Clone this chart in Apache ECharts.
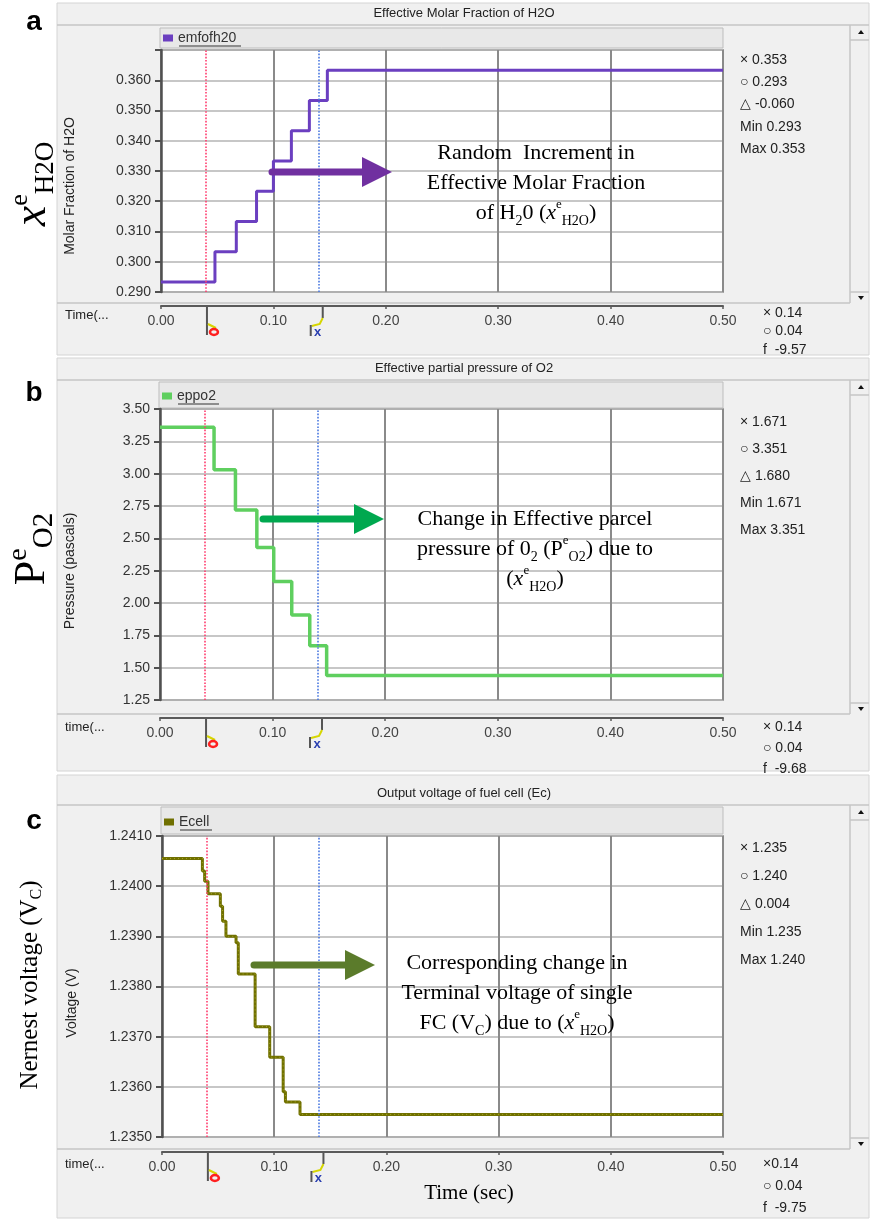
<!DOCTYPE html>
<html>
<head>
<meta charset="utf-8">
<title>Fuel cell scope traces</title>
<script src="https://cdn.jsdelivr.net/npm/echarts@6/dist/echarts.min.js"></script>
<style>
  html, body { margin: 0; padding: 0; background: #fff; }
  #chart { width: 870px; height: 1220px; }
</style>
</head>
<body>
<div id="chart"></div>
<script>
// step times (s) and levels
const timeH2O = [0, 0.048, 0.067, 0.085, 0.100, 0.116, 0.132, 0.148, 0.50];
const molarH2O = [0.2933, 0.3033, 0.3133, 0.3233, 0.3333, 0.3433, 0.3533, 0.3633, 0.3633];

const timeO2 = [0, 0.048, 0.067, 0.086, 0.101, 0.117, 0.133, 0.148, 0.50];
const pressO2 = [3.358, 3.030, 2.720, 2.430, 2.166, 1.908, 1.670, 1.440, 1.440];

const timeCell = [0, 0.036, 0.038, 0.041, 0.052, 0.054, 0.057, 0.066, 0.068, 0.083, 0.096, 0.108, 0.110, 0.123, 0.50];
const ecell = [1.24055, 1.2403, 1.2401, 1.23985, 1.2396, 1.2393, 1.2390, 1.23887, 1.23825, 1.2372, 1.23659, 1.2359, 1.2357, 1.23545, 1.23545];

// cursor positions (o = red, x = blue)
const cursorTimes = [0.04, 0.143];

// readout boxes at the right of each scope
const readoutH2O = ['× 0.353', '○ 0.293', '△ -0.060', 'Min 0.293', 'Max 0.353'];
const readoutO2 = ['× 1.671', '○ 3.351', '△ 1.680', 'Min 1.671', 'Max 3.351'];
const readoutCell = ['× 1.235', '○ 1.240', '△ 0.004', 'Min 1.235', 'Max 1.240'];
const cursorH2O = ['× 0.14', '○ 0.04', 'f  -9.57'];
const cursorO2 = ['× 0.14', '○ 0.04', 'f  -9.68'];
const cursorCell = ['×0.14', '○ 0.04', 'f  -9.75'];

const SANS = 'Liberation Sans, Arial, sans-serif';
const SERIF = 'Liberation Serif, Times New Roman, serif';

const panels = [
  { top: 3, bottom: 355, titleY: 13, barY: 25, legend: [28, 48], legendY: 38, underline: 62,
    grid: { left: 161, top: 50, width: 562, height: 242 }, axisOffset: 14, sepY: 303,
    title: 'Effective Molar Fraction of H2O', name: 'Molar Fraction of H2O', nameX: 70, nameY: 186,
    timeLabel: 'Time(...', timeY: 315, readY: 60, readStep: 22.3, readout: readoutH2O,
    curY: 313, curStep: 18.5, cursor: cursorH2O },
  { top: 358, bottom: 771, titleY: 368, barY: 380, legend: [382, 408], legendY: 396, underline: 41,
    grid: { left: 160, top: 409, width: 563, height: 291 }, axisOffset: 18, sepY: 714,
    title: 'Effective partial pressure of O2', name: 'Pressure (pascals)', nameX: 70, nameY: 571,
    timeLabel: 'time(...', timeY: 727, readY: 422, readStep: 27, readout: readoutO2,
    curY: 727, curStep: 21, cursor: cursorO2 },
  { top: 775, bottom: 1218, titleY: 793, barY: 805, legend: [807, 834], legendY: 822, underline: 32,
    grid: { left: 162, top: 836, width: 561, height: 301 }, axisOffset: 15, sepY: 1149,
    title: 'Output voltage of fuel cell (Ec)', name: 'Voltage (V)', nameX: 72, nameY: 1003,
    timeLabel: 'time(...', timeY: 1164, readY: 848, readStep: 28, readout: readoutCell,
    curY: 1164, curStep: 22, cursor: cursorCell }
];

const yRanges = [
  { min: 0.29, max: 0.37, interval: 0.01, fmt: v => (v > 0.3655 ? '' : v.toFixed(3)) },
  { min: 1.25, max: 3.5, interval: 0.25, fmt: v => v.toFixed(2) },
  { min: 1.235, max: 1.241, interval: 0.001, fmt: v => v.toFixed(4) }
];

const pairs = (xs, ys) => xs.map((x, i) => [x, ys[i]]);

const cursorLines = {
  silent: true,
  symbol: 'none',
  label: { show: false },
  data: [
    { xAxis: cursorTimes[0], lineStyle: { color: '#ff3d6e', type: 'dotted', width: 1.6 } },
    { xAxis: cursorTimes[1], lineStyle: { color: '#4a78e0', type: 'dotted', width: 1.6 } }
  ]
};

function richSet(color, size) {
  return {
    n: { fontFamily: SERIF, fontSize: size, lineHeight: 30, color },
    i: { fontFamily: SERIF, fontSize: size, fontStyle: 'italic', lineHeight: 30, color },
    sp: { fontFamily: SERIF, fontSize: 13, lineHeight: 17, verticalAlign: 'top', color },
    sb: { fontFamily: SERIF, fontSize: 14, lineHeight: 16, verticalAlign: 'bottom', color }
  };
}

function arrow(x1, x2, y, color) {
  return [
    { type: 'line', z: 50, shape: { x1: x1, y1: y, x2: x2 - 26, y2: y }, style: { stroke: color, lineWidth: 7, lineCap: 'round' } },
    { type: 'polygon', z: 50, shape: { points: [[x2 - 30, y - 15], [x2, y], [x2 - 30, y + 15]] }, style: { fill: color } }
  ];
}

const graphics = [];
panels.forEach(p => {
  const g = p.grid;
  graphics.push(
    { type: 'rect', z: -10, shape: { x: 57, y: p.top, width: 812, height: p.bottom - p.top }, style: { fill: '#f0f0f0', stroke: '#d4d4d4', lineWidth: 1 } },
    { type: 'line', z: -9, shape: { x1: 57, y1: p.barY, x2: 869, y2: p.barY }, style: { stroke: '#c6c6c6', lineWidth: 1.5 } },
    { type: 'line', z: -9, shape: { x1: 57, y1: p.sepY, x2: 850, y2: p.sepY }, style: { stroke: '#c6c6c6', lineWidth: 1.5 } },
    // scroll bar
    { type: 'line', z: -9, shape: { x1: 850, y1: p.barY, x2: 850, y2: p.sepY }, style: { stroke: '#c6c6c6', lineWidth: 1.5 } },
    { type: 'line', z: -9, shape: { x1: 850, y1: p.barY + 15, x2: 869, y2: p.barY + 15 }, style: { stroke: '#c6c6c6', lineWidth: 1.5 } },
    { type: 'line', z: -9, shape: { x1: 850, y1: p.sepY - 11, x2: 869, y2: p.sepY - 11 }, style: { stroke: '#c6c6c6', lineWidth: 1.5 } },
    { type: 'polygon', z: -8, shape: { points: [[858, p.barY + 9], [864, p.barY + 9], [861, p.barY + 5]] }, style: { fill: '#111' } },
    { type: 'polygon', z: -8, shape: { points: [[858, p.sepY - 7], [864, p.sepY - 7], [861, p.sepY - 3]] }, style: { fill: '#111' } },
    // legend strip
    { type: 'rect', z: -8, shape: { x: g.left - 1, y: p.legend[0], width: g.width + 1, height: p.legend[1] - p.legend[0] }, style: { fill: '#e8e8e8', stroke: '#bdbdbd', lineWidth: 1 } },
    { type: 'line', z: 5, shape: { x1: g.left + 18, y1: p.legendY + 8, x2: g.left + 18 + p.underline, y2: p.legendY + 8 }, style: { stroke: '#333', lineWidth: 1 } },
    // title
    { type: 'text', z: 5, style: { text: p.title, x: 464, y: p.titleY, textAlign: 'center', textVerticalAlign: 'middle', font: '13px ' + SANS, fill: '#222' } },
    // y axis name
    { type: 'text', z: 5, rotation: Math.PI / 2, x: p.nameX, y: p.nameY, style: { text: p.name, x: 0, y: 0, textAlign: 'center', textVerticalAlign: 'middle', font: '14px ' + SANS, fill: '#222' } },
    // time label
    { type: 'text', z: 5, style: { text: p.timeLabel, x: 65, y: p.timeY, textVerticalAlign: 'middle', font: '13px ' + SANS, fill: '#222' } }
  );
  p.readout.forEach((t, k) => graphics.push({ type: 'text', z: 5, style: { text: t, x: 740, y: p.readY + k * p.readStep, textVerticalAlign: 'middle', font: '14px ' + SANS, fill: '#222' } }));
  p.cursor.forEach((t, k) => graphics.push({ type: 'text', z: 5, style: { text: t, x: 763, y: p.curY + k * p.curStep, textVerticalAlign: 'middle', font: '14px ' + SANS, fill: '#222' } }));
});

// panel letters
[['a', 22], ['b', 393], ['c', 821]].forEach(([t, y]) => graphics.push({ type: 'text', z: 5, style: { text: t, x: 34, y: y, textAlign: 'center', textVerticalAlign: 'middle', font: 'bold 28px ' + SANS, fill: '#000' } }));

// rotated quantity labels at the left
graphics.push(
  { type: 'text', z: 5, rotation: Math.PI / 2, x: 33, y: 184, style: { text: '{i|x}{sp|e}{sb|H2O}', x: 0, y: 0, textAlign: 'center', textVerticalAlign: 'middle',
    rich: { i: { fontFamily: SERIF, fontSize: 46, fontStyle: 'italic', lineHeight: 52, color: '#e8342c' },
            sp: { fontFamily: SERIF, fontSize: 26, lineHeight: 26, verticalAlign: 'top', color: '#e8342c' },
            sb: { fontFamily: SERIF, fontSize: 27, lineHeight: 28, verticalAlign: 'bottom', color: '#e8342c' } } } },
  { type: 'text', z: 5, rotation: Math.PI / 2, x: 32, y: 549, style: { text: '{n|P}{sp|e}{sb|O2}', x: 0, y: 0, textAlign: 'center', textVerticalAlign: 'middle',
    rich: { n: { fontFamily: SERIF, fontSize: 44, lineHeight: 54, color: '#1fb54a' },
            sp: { fontFamily: SERIF, fontSize: 28, lineHeight: 28, verticalAlign: 'top', color: '#1fb54a' },
            sb: { fontFamily: SERIF, fontSize: 29, lineHeight: 28, verticalAlign: 'bottom', color: '#1fb54a' } } } },
  { type: 'text', z: 5, rotation: Math.PI / 2, x: 30, y: 985, style: { text: '{n|Nernest voltage (V}{sb|C}{n|)}', x: 0, y: 0, textAlign: 'center', textVerticalAlign: 'middle',
    rich: { n: { fontFamily: SERIF, fontSize: 25, lineHeight: 30, color: '#6b8a2c' },
            sb: { fontFamily: SERIF, fontSize: 16, lineHeight: 16, verticalAlign: 'bottom', color: '#6b8a2c' } } } }
);

// annotations
graphics.push(
  ...arrow(272, 392, 172, '#7030a0'),
  { type: 'text', z: 50, style: { x: 536, y: 183, textAlign: 'center', textVerticalAlign: 'middle',
    text: '{n|Random  Increment in}\n{n|Effective Molar Fraction}\n{n|of H}{sb|2}{n|0 (}{i|x}{sp|e}{sb|H2O}{n|)}', rich: richSet('#7030a0', 22) } },
  ...arrow(263, 384, 519, '#00a84f'),
  { type: 'text', z: 50, style: { x: 535, y: 549, textAlign: 'center', textVerticalAlign: 'middle',
    text: '{n|Change in Effective parcel}\n{n|pressure of 0}{sb|2}{n| (P}{sp|e}{sb|O2}{n|) due to}\n{n|(}{i|x}{sp|e}{sb|H2O}{n|)}', rich: richSet('#00b050', 22) } },
  ...arrow(254, 375, 965, '#5b7b2b'),
  { type: 'text', z: 50, style: { x: 517, y: 993, textAlign: 'center', textVerticalAlign: 'middle',
    text: '{n|Corresponding change in}\n{n|Terminal voltage of single}\n{n|FC (V}{sb|C}{n|) due to (}{i|x}{sp|e}{sb|H2O}{n|)}', rich: richSet('#6b8a2c', 22) } },
  { type: 'text', z: 50, style: { text: 'Time (sec)', x: 469, y: 1193, textAlign: 'center', textVerticalAlign: 'middle', font: '21px ' + SERIF, fill: '#000' } }
);

const chart = echarts.init(document.getElementById('chart'));

const option = {
  animation: false,
  backgroundColor: '#fff',
  grid: panels.map(p => ({ ...p.grid, show: true, backgroundColor: '#fff', borderColor: '#a4a4a4', borderWidth: 2 })),
  xAxis: panels.map((p, i) => ({
    type: 'value', gridIndex: i, min: 0, max: 0.5, interval: 0.1, offset: p.axisOffset,
    axisLine: { show: true, onZero: false, lineStyle: { color: '#5a5a5a', width: 2 } },
    axisTick: { show: true, length: 3, lineStyle: { color: '#5a5a5a', width: 1.5 } },
    axisLabel: { formatter: v => v.toFixed(2), fontSize: 14, color: '#444', margin: 8, fontFamily: SANS },
    splitLine: { show: true, lineStyle: { color: '#8a8a8a', width: 2 } }
  })),
  yAxis: yRanges.map((r, i) => ({
    type: 'value', gridIndex: i, min: r.min, max: r.max, interval: r.interval,
    axisLine: { show: true, onZero: false, lineStyle: { color: '#505050', width: 2.5 } },
    axisTick: { show: true, length: 6, lineStyle: { color: '#505050', width: 2 } },
    axisLabel: { formatter: r.fmt, fontSize: 14, color: '#333', margin: 10, fontFamily: SANS },
    splitLine: { show: true, lineStyle: { color: '#b4b4b4', width: 1.5 } }
  })),
  legend: [
    { data: ['emfofh20'], left: 163, top: panels[0].legendY - 7 },
    { data: ['eppo2'], left: 162, top: panels[1].legendY - 7 },
    { data: ['Ecell'], left: 164, top: panels[2].legendY - 7 }
  ].map(l => ({ ...l, padding: 0, icon: 'rect', itemWidth: 10, itemHeight: 7, selectedMode: false,
    textStyle: { fontSize: 14, color: '#333', fontFamily: SANS } })),
  series: [
    { name: 'emfofh20', type: 'line', xAxisIndex: 0, yAxisIndex: 0, step: 'end', symbol: 'none',
      data: pairs(timeH2O, molarH2O), itemStyle: { color: '#6b3fc0' }, lineStyle: { color: '#6b3fc0', width: 3 }, markLine: cursorLines },
    { name: 'eppo2', type: 'line', xAxisIndex: 1, yAxisIndex: 1, step: 'end', symbol: 'none',
      data: pairs(timeO2, pressO2), itemStyle: { color: '#5fcf5f' }, lineStyle: { color: '#5fcf5f', width: 3.5 }, markLine: cursorLines },
    { name: 'Ecell', type: 'line', xAxisIndex: 2, yAxisIndex: 2, step: 'end', symbol: 'none',
      data: pairs(timeCell, ecell), itemStyle: { color: '#707000' }, lineStyle: { color: '#707000', width: 3 }, markLine: cursorLines },
    { name: 'Ecell dots', type: 'line', xAxisIndex: 2, yAxisIndex: 2, step: 'end', symbol: 'none', silent: true,
      data: pairs(timeCell, ecell), lineStyle: { color: '#b8b82a', width: 0.8, type: [1, 3] }, z: 3 }
  ],
  graphic: { elements: graphics }
};

chart.setOption(option);

// cursor glyphs under each time axis, placed through the axis scale
const cursorEls = [];
panels.forEach((p, i) => {
  const axisY = p.grid.top + p.grid.height + p.axisOffset;
  const xo = chart.convertToPixel({ xAxisIndex: i }, cursorTimes[0]);
  const xx = chart.convertToPixel({ xAxisIndex: i }, cursorTimes[1]);
  cursorEls.push(
    { type: 'line', z: 6, shape: { x1: xo + 1, y1: axisY + 1, x2: xo + 1, y2: axisY + 29 }, style: { stroke: '#555', lineWidth: 2 } },
    { type: 'line', z: 6, shape: { x1: xo + 2, y1: axisY + 18, x2: xo + 10, y2: axisY + 22 }, style: { stroke: '#d6d600', lineWidth: 2 } },
    { type: 'ellipse', z: 6, shape: { cx: xo + 8, cy: axisY + 26, rx: 4, ry: 3 }, style: { fill: 'none', stroke: '#ff2020', lineWidth: 2.5 } },
    { type: 'line', z: 6, shape: { x1: xx + 1, y1: axisY + 1, x2: xx + 1, y2: axisY + 12 }, style: { stroke: '#555', lineWidth: 2 } },
    { type: 'polyline', z: 6, shape: { points: [[xx + 1, axisY + 12], [xx - 2, axisY + 18], [xx - 10, axisY + 20]] }, style: { stroke: '#d6d600', lineWidth: 2, fill: 'none' } },
    { type: 'line', z: 6, shape: { x1: xx - 11, y1: axisY + 19, x2: xx - 11, y2: axisY + 30 }, style: { stroke: '#555', lineWidth: 2 } },
    { type: 'text', z: 6, style: { text: 'x', x: xx - 4, y: axisY + 26, textAlign: 'center', textVerticalAlign: 'middle', font: 'bold 13px ' + SANS, fill: '#2a3fb0' } }
  );
});
chart.setOption({ graphic: { elements: graphics.concat(cursorEls) } });
</script>
</body>
</html>
